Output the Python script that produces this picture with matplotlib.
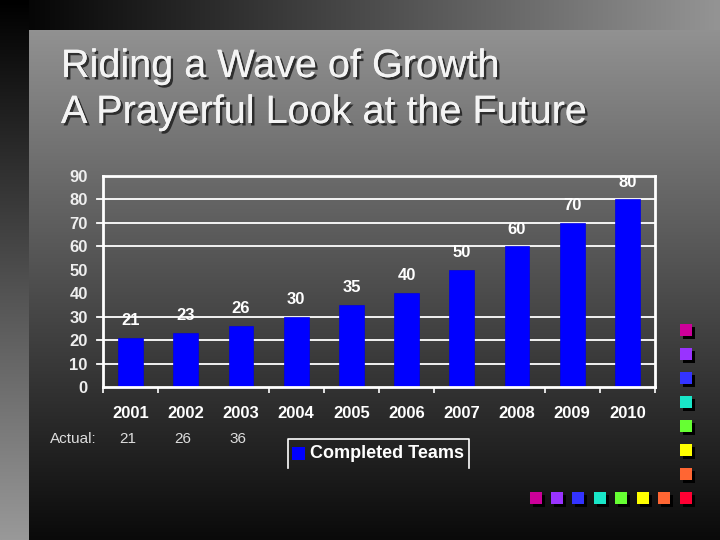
import numpy as np
import matplotlib
matplotlib.use("Agg")
import matplotlib.pyplot as plt
import matplotlib.patheffects as pe
from matplotlib.patches import Rectangle
import matplotlib.transforms as mtrans

plt.rcParams['font.family'] = ['Liberation Sans', 'DejaVu Sans']

years = ["2001", "2002", "2003", "2004", "2005", "2006", "2007", "2008", "2009", "2010"]
teams = [21, 23, 26, 30, 35, 40, 50, 60, 70, 80]
actual = [21, 26, 36]
y_ticks = [0, 10, 20, 30, 40, 50, 60, 70, 80, 90]
grid_levels = [10, 20, 30, 60, 70, 80]
title_lines = ["Riding a Wave of Growth", "A Prayerful Look at the Future"]
legend_label = "Completed Teams"
deco_colors = ["#cc0099", "#9933ff", "#3333ff", "#19e6c8", "#66ff33", "#ffff00", "#ff6633", "#ff0033"]

W, H = 720, 540
fig = plt.figure(figsize=(7.2, 5.4), dpi=100)

# background axes in pixel coordinates
bg = fig.add_axes([0, 0, 1, 1])
bg.set_xlim(0, W)
bg.set_ylim(H, 0)
bg.axis('off')

# outer gradients
top = np.linspace(0.0, 0.58, 256)[None, :]
bg.imshow(np.dstack([top]*3), extent=(0, W, 30, 0), aspect='auto', interpolation='bilinear')
left = np.linspace(0.0, 0.6, 256)[:, None]
bg.imshow(np.dstack([left]*3), extent=(0, 29, H, 0), aspect='auto', interpolation='bilinear')
# inner panel
inner = np.linspace(0.57, 0.04, 256)[:, None]
bg.imshow(np.dstack([inner]*3), extent=(29, W, H, 30), aspect='auto', interpolation='bilinear')
bg.set_xlim(0, W)
bg.set_ylim(H, 0)

# title
shadow = [pe.withSimplePatchShadow(offset=(1.8, -1.8), shadow_rgbFace='#202020', alpha=0.85), pe.Normal()]
bg.text(61, 77, title_lines[0], fontsize=28.5, color='#f4f4f4', va='baseline', ha='left', path_effects=shadow)
bg.text(61, 123, title_lines[1], fontsize=28.5, color='#f4f4f4', va='baseline', ha='left', path_effects=shadow)

# main chart axes
x0, x1, ytop, ybot = 103, 655, 176, 387
ax = fig.add_axes([x0 / W, 1 - ybot / H, (x1 - x0) / W, (ybot - ytop) / H])
ax.patch.set_alpha(0)
x = np.arange(len(years))
ax.set_xlim(-0.5, len(years) - 0.5)
ax.set_ylim(0, 90)

for lv in grid_levels:
    ax.plot([-0.5 - 0.11, len(years) - 0.5], [lv, lv], color='white', lw=1.3, clip_on=False, zorder=1)

ax.bar(x, teams, width=0.45, color='#0000ff', edgecolor='#0000e6', lw=0.5, zorder=2)
for xi, v in zip(x, teams):
    ax.annotate(str(v), (xi, v), xytext=(0, 7), textcoords='offset points', ha='center', va='bottom',
                fontsize=12, fontweight='bold', color='white', zorder=3)

for s in ax.spines.values():
    s.set_color('white')
    s.set_linewidth(2)
    s.set_zorder(4)

ax.set_yticks(y_ticks)
ax.set_yticklabels([str(t) for t in y_ticks], fontsize=12, fontweight='bold', color='#eeeeee')
ax.tick_params(axis='y', length=0, pad=11)
ax.set_xticks(x)
ax.set_xticklabels(years, fontsize=12, fontweight='bold', color='white')
ax.tick_params(axis='x', which='major', length=0, pad=14)
bounds = [b for b in np.arange(-0.5, len(years), 1.0) if b not in (1.5, 6.5)]
ax.set_xticks(bounds, minor=True)
ax.tick_params(axis='x', which='minor', length=4, width=1.2, color='white', direction='out')

# Actual row
tr = mtrans.blended_transform_factory(ax.transData, bg.transData)
bg.text(97, 439, "Actual:", fontsize=11, color='#dddddd', ha='right', va='center')
for xi, v in zip(x[:len(actual)], actual):
    bg.text(xi - 0.05, 439, str(v), transform=tr, fontsize=11, color='#dddddd', ha='center', va='center')

# legend (manual)
lx0, lx1, ly0, ly1 = 288, 469, 439, 468
bg.plot([lx0, lx0, lx1, lx1], [ly1, ly0, ly0, ly1], color='white', lw=1.2)
bg.add_patch(Rectangle((292, 447), 13, 13, facecolor='#0000ff', edgecolor='none'))
bg.text(310, 454, legend_label, fontsize=13, fontweight='bold', color='white', ha='left', va='center')

# decorative squares
sz = 12
col_y = [324, 348, 372, 396, 420, 444, 468]
for c, yy in zip(deco_colors[:7], col_y):
    bg.add_patch(Rectangle((683, yy + 3), sz, sz, facecolor='black', edgecolor='none'))
    bg.add_patch(Rectangle((680, yy), sz, sz, facecolor=c, edgecolor='none'))
row_x = [530, 551, 572, 594, 615, 637, 658, 680]
for c, xx in zip(deco_colors, row_x):
    bg.add_patch(Rectangle((xx + 3, 495), sz, sz, facecolor='black', edgecolor='none'))
    bg.add_patch(Rectangle((xx, 492), sz, sz, facecolor=c, edgecolor='none'))

fig.savefig("out.png", dpi=100)
